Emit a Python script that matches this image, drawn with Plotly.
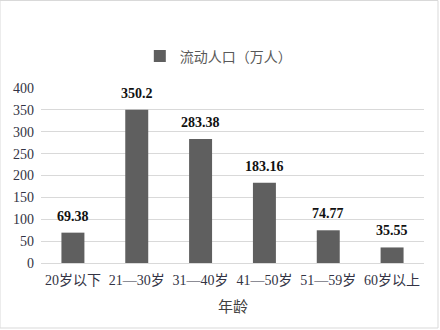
import plotly.graph_objects as go

categories = ["20岁以下", "21—30岁", "31—40岁", "41—50岁", "51—59岁", "60岁以上"]
values = [69.38, 350.2, 283.38, 183.16, 74.77, 35.55]
labels = ["69.38", "350.2", "283.38", "183.16", "74.77", "35.55"]
series_name = "流动人口（万人）"
x_title = "年龄"
y_ticks = [0, 50, 100, 150, 200, 250, 300, 350, 400]

FONT = "Liberation Serif, Noto Sans CJK SC, serif"

fig = go.Figure()
fig.add_trace(go.Bar(
    x=categories, y=values, name=series_name,
    marker=dict(color="#5f5f5f", line=dict(width=0)),
    showlegend=True,
))

for c, v, t in zip(categories, values, labels):
    fig.add_annotation(x=c, y=v, text="<b>" + t + "</b>", showarrow=False,
                       yanchor="bottom", yshift=7,
                       font=dict(family=FONT, size=14, color="#111111"))

fig.add_annotation(x=0.5, y=-44/175, xref="paper", yref="paper", text=x_title,
                   showarrow=False, xanchor="center", yanchor="middle",
                   font=dict(family=FONT, size=15, color="#404040"))

fig.update_layout(
    width=440, height=330,
    margin=dict(l=41, r=16, t=88, b=67),
    paper_bgcolor="white", plot_bgcolor="white",
    bargap=0.64,
    font=dict(family=FONT, size=14, color="#333344"),
    legend=dict(orientation="h", x=0.258, xanchor="left", y=1.18, yanchor="middle",
                font=dict(family=FONT, size=14, color="#595959"),
                itemwidth=30, bgcolor="rgba(0,0,0,0)"),
    xaxis=dict(showgrid=False, showline=False, ticks="", ticklabelstandoff=7,
               tickfont=dict(family=FONT, size=14, color="#333344")),
    yaxis=dict(range=[0, 400], tickvals=y_ticks, showgrid=True, gridcolor="#d9d9d9",
               gridwidth=1, zeroline=True, zerolinecolor="#d9d9d9", zerolinewidth=1,
               showline=False, ticks="", ticklabelstandoff=6,
               tickfont=dict(family=FONT, size=14, color="#333344")),
    shapes=[dict(type="rect", xref="paper", yref="paper", x0=-41/383, x1=1+14/383,
                 y0=-65/175, y1=1+87.5/175, line=dict(color="#d9d9d9", width=1))],
)

fig.write_html("out.html")
